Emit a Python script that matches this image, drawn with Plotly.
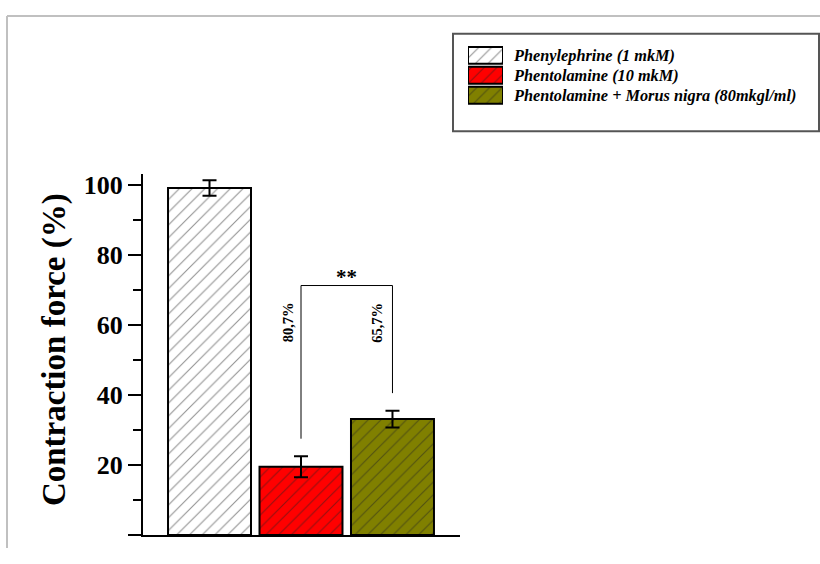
import plotly.graph_objects as go

# ---- data ----
categories = ["Phenylephrine (1 mkM)", "Phentolamine (10 mkM)", "Phentolamine + Morus nigra (80mkgl/ml)"]
values = [99.0, 19.5, 33.1]
errors = [2.2, 3.0, 2.4]
colors = ["#ffffff", "#ff0000", "#808000"]
pct_labels = ["80,7%", "65,7%"]
signif_label = "**"
bracket_top = 71.2
y_ticks = [0, 20, 40, 60, 80, 100]

W, H = 820, 548
def px(x):
    return x / W
def py(y):
    return 1 - y / H

FONT = "Liberation Serif"
xpos = list(range(len(categories)))

fig = go.Figure()
for i, (cat, v, e, c) in enumerate(zip(categories, values, errors, colors)):
    fig.add_trace(go.Bar(
        x=[xpos[i]], y=[v], name=cat, width=0.907,
        marker=dict(color=c, line=dict(color="black", width=2),
                    pattern=dict(shape="/", fgcolor="#222222", bgcolor=c, size=9, solidity=0.12)),
        error_y=dict(type="data", array=[e], color="black", thickness=2, width=7),
        showlegend=False, xaxis="x", yaxis="y",
    ))

# legend swatches on an inset axis
for i, (cat, c) in enumerate(zip(categories, colors)):
    fig.add_trace(go.Bar(
        x=[1], y=[i], orientation="h", width=0.85,
        marker=dict(color=c, line=dict(color="black", width=2),
                    pattern=dict(shape="/", fgcolor="#222222", bgcolor=c, size=9, solidity=0.12)),
        showlegend=False, xaxis="x2", yaxis="y2", hoverinfo="skip",
    ))
    fig.add_annotation(xref="paper", yref="paper", x=px(511), y=py(52.7 + 20 * i),
                       text=cat, showarrow=False, xanchor="left", yanchor="middle",
                       font=dict(family=FONT, size=16.3, color="black", style="italic", weight="bold"))

# bracket
lb = values[1] + errors[1] + 5
rb = values[2] + errors[2] + 5
for (x0, y0, x1, y1) in [(1, lb, 1, bracket_top), (1, bracket_top, 2, bracket_top), (2, bracket_top, 2, rb)]:
    fig.add_shape(type="line", xref="x", yref="y", x0=x0, y0=y0, x1=x1, y1=y1,
                  line=dict(color="black", width=1))
fig.add_annotation(xref="x", yref="y", x=1.5, y=bracket_top, text=signif_label, showarrow=False,
                   xanchor="center", yanchor="bottom", yshift=-5,
                   font=dict(family=FONT, size=21, color="black", weight="bold"))
for j, (lab, xs) in enumerate(zip(pct_labels, [-13, -15])):
    fig.add_annotation(xref="x", yref="y", x=1 + j, y=60.7, text=lab, showarrow=False,
                       textangle=-90, xshift=xs, xanchor="center", yanchor="middle",
                       font=dict(family=FONT, size=14.5, color="black", weight="bold"))

# y title
fig.add_annotation(xref="paper", yref="paper", x=px(54), y=py(349), text="Contraction force (%)",
                   showarrow=False, textangle=-90, xanchor="center", yanchor="middle",
                   font=dict(family=FONT, size=33, color="black", weight="bold"))

# frame shapes
fig.add_shape(type="line", xref="paper", yref="paper", x0=px(7), y0=py(13), x1=1.0, y1=py(13),
              line=dict(color="#c0c0c0", width=2))
fig.add_shape(type="line", xref="paper", yref="paper", x0=px(7), y0=py(13), x1=px(7), y1=0,
              line=dict(color="#c0c0c0", width=2))
fig.add_shape(type="rect", xref="paper", yref="paper", x0=px(453), y0=py(31), x1=px(819), y1=py(129),
              line=dict(color="#555555", width=2))

fig.update_layout(
    width=W, height=H, autosize=False,
    margin=dict(l=0, r=0, t=0, b=0),
    paper_bgcolor="white", plot_bgcolor="rgba(0,0,0,0)",
    showlegend=False, barmode="overlay",
    xaxis=dict(domain=[px(143), px(460)], range=[-0.727, 2.738], showline=True, linewidth=2,
               linecolor="black", showticklabels=False, ticks="", showgrid=False, zeroline=False,
               fixedrange=True),
    yaxis=dict(domain=[py(535), py(172)], range=[0, 103], showline=True, linewidth=2, linecolor="black",
               tickvals=y_ticks, ticks="outside", ticklen=13, tickwidth=2, tickcolor="black",
               minor=dict(dtick=10, ticks="outside", ticklen=8, tickwidth=2, tickcolor="black"),
               showgrid=False, zeroline=False,
               tickfont=dict(family=FONT, size=26, color="black", weight="bold")),
    xaxis2=dict(domain=[px(468), px(503)], range=[0, 1], visible=False, anchor="y2", fixedrange=True),
    yaxis2=dict(domain=[py(102.7), py(42.7)], range=[2.5, -0.5], visible=False, anchor="x2", fixedrange=True),
)

fig.write_html("out.html")
